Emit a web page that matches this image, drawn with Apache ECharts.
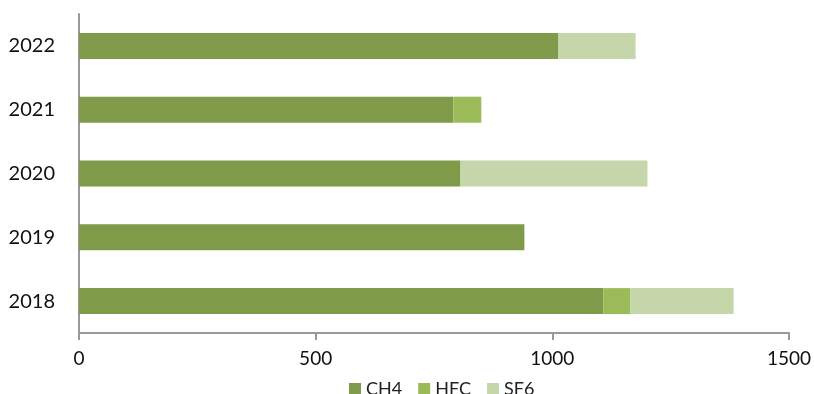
<!DOCTYPE html>
<html>
<head>
<meta charset="utf-8">
<script src="https://cdn.jsdelivr.net/npm/echarts@6/dist/echarts.min.js"></script>
<style>
  html, body { margin: 0; padding: 0; background: #fff; }
  #chart { width: 814px; height: 394px; }
</style>
</head>
<body>
<div id="chart"></div>
<script>
const years = ['2018', '2019', '2020', '2021', '2022']
const ch4 = [1108, 941, 806, 791, 1013]
const hfc = [57, 0, 0, 59, 0]
const sf6 = [218, 0, 395, 0, 163]

let chart = echarts.init(document.getElementById('chart'))
let option = {
    animation: false,
    textStyle: { fontFamily: 'Lato' },
    grid: {
        left: 79,
        right: 23,
        top: 14,
        bottom: 61
    },
    legend: {
        bottom: -9,
        left: 344,
        itemWidth: 12,
        itemHeight: 12,
        itemGap: 16,
        icon: 'rect',
        textStyle: { color: '#222', fontSize: 18, fontFamily: 'Lato' },
        data: ['CH4', 'HFC', 'SF6']
    },
    xAxis: {
        type: 'value',
        min: 0,
        max: 1500,
        interval: 500,
        axisLine: { show: true, lineStyle: { color: '#999', width: 2 } },
        axisTick: { show: true, length: 7, lineStyle: { color: '#999', width: 2 } },
        axisLabel: { color: '#111', fontSize: 19, margin: 16, formatter: (v) => String(v) },
        splitLine: { show: false }
    },
    yAxis: {
        type: 'category',
        data: years,
        axisLine: { show: true, lineStyle: { color: '#999', width: 2 } },
        axisTick: { show: false },
        axisLabel: { color: '#111', fontSize: 20, margin: 24 }
    },
    series: [
        {
            name: 'CH4',
            type: 'bar',
            stack: 'total',
            barWidth: 26,
            data: ch4,
            itemStyle: { color: '#7F9A48' }
        },
        {
            name: 'HFC',
            type: 'bar',
            stack: 'total',
            barWidth: 26,
            data: hfc,
            itemStyle: { color: '#9BBB59' }
        },
        {
            name: 'SF6',
            type: 'bar',
            stack: 'total',
            barWidth: 26,
            data: sf6,
            itemStyle: { color: '#C5D6AB' }
        }
    ]
}
chart.setOption(option)
</script>
</body>
</html>
